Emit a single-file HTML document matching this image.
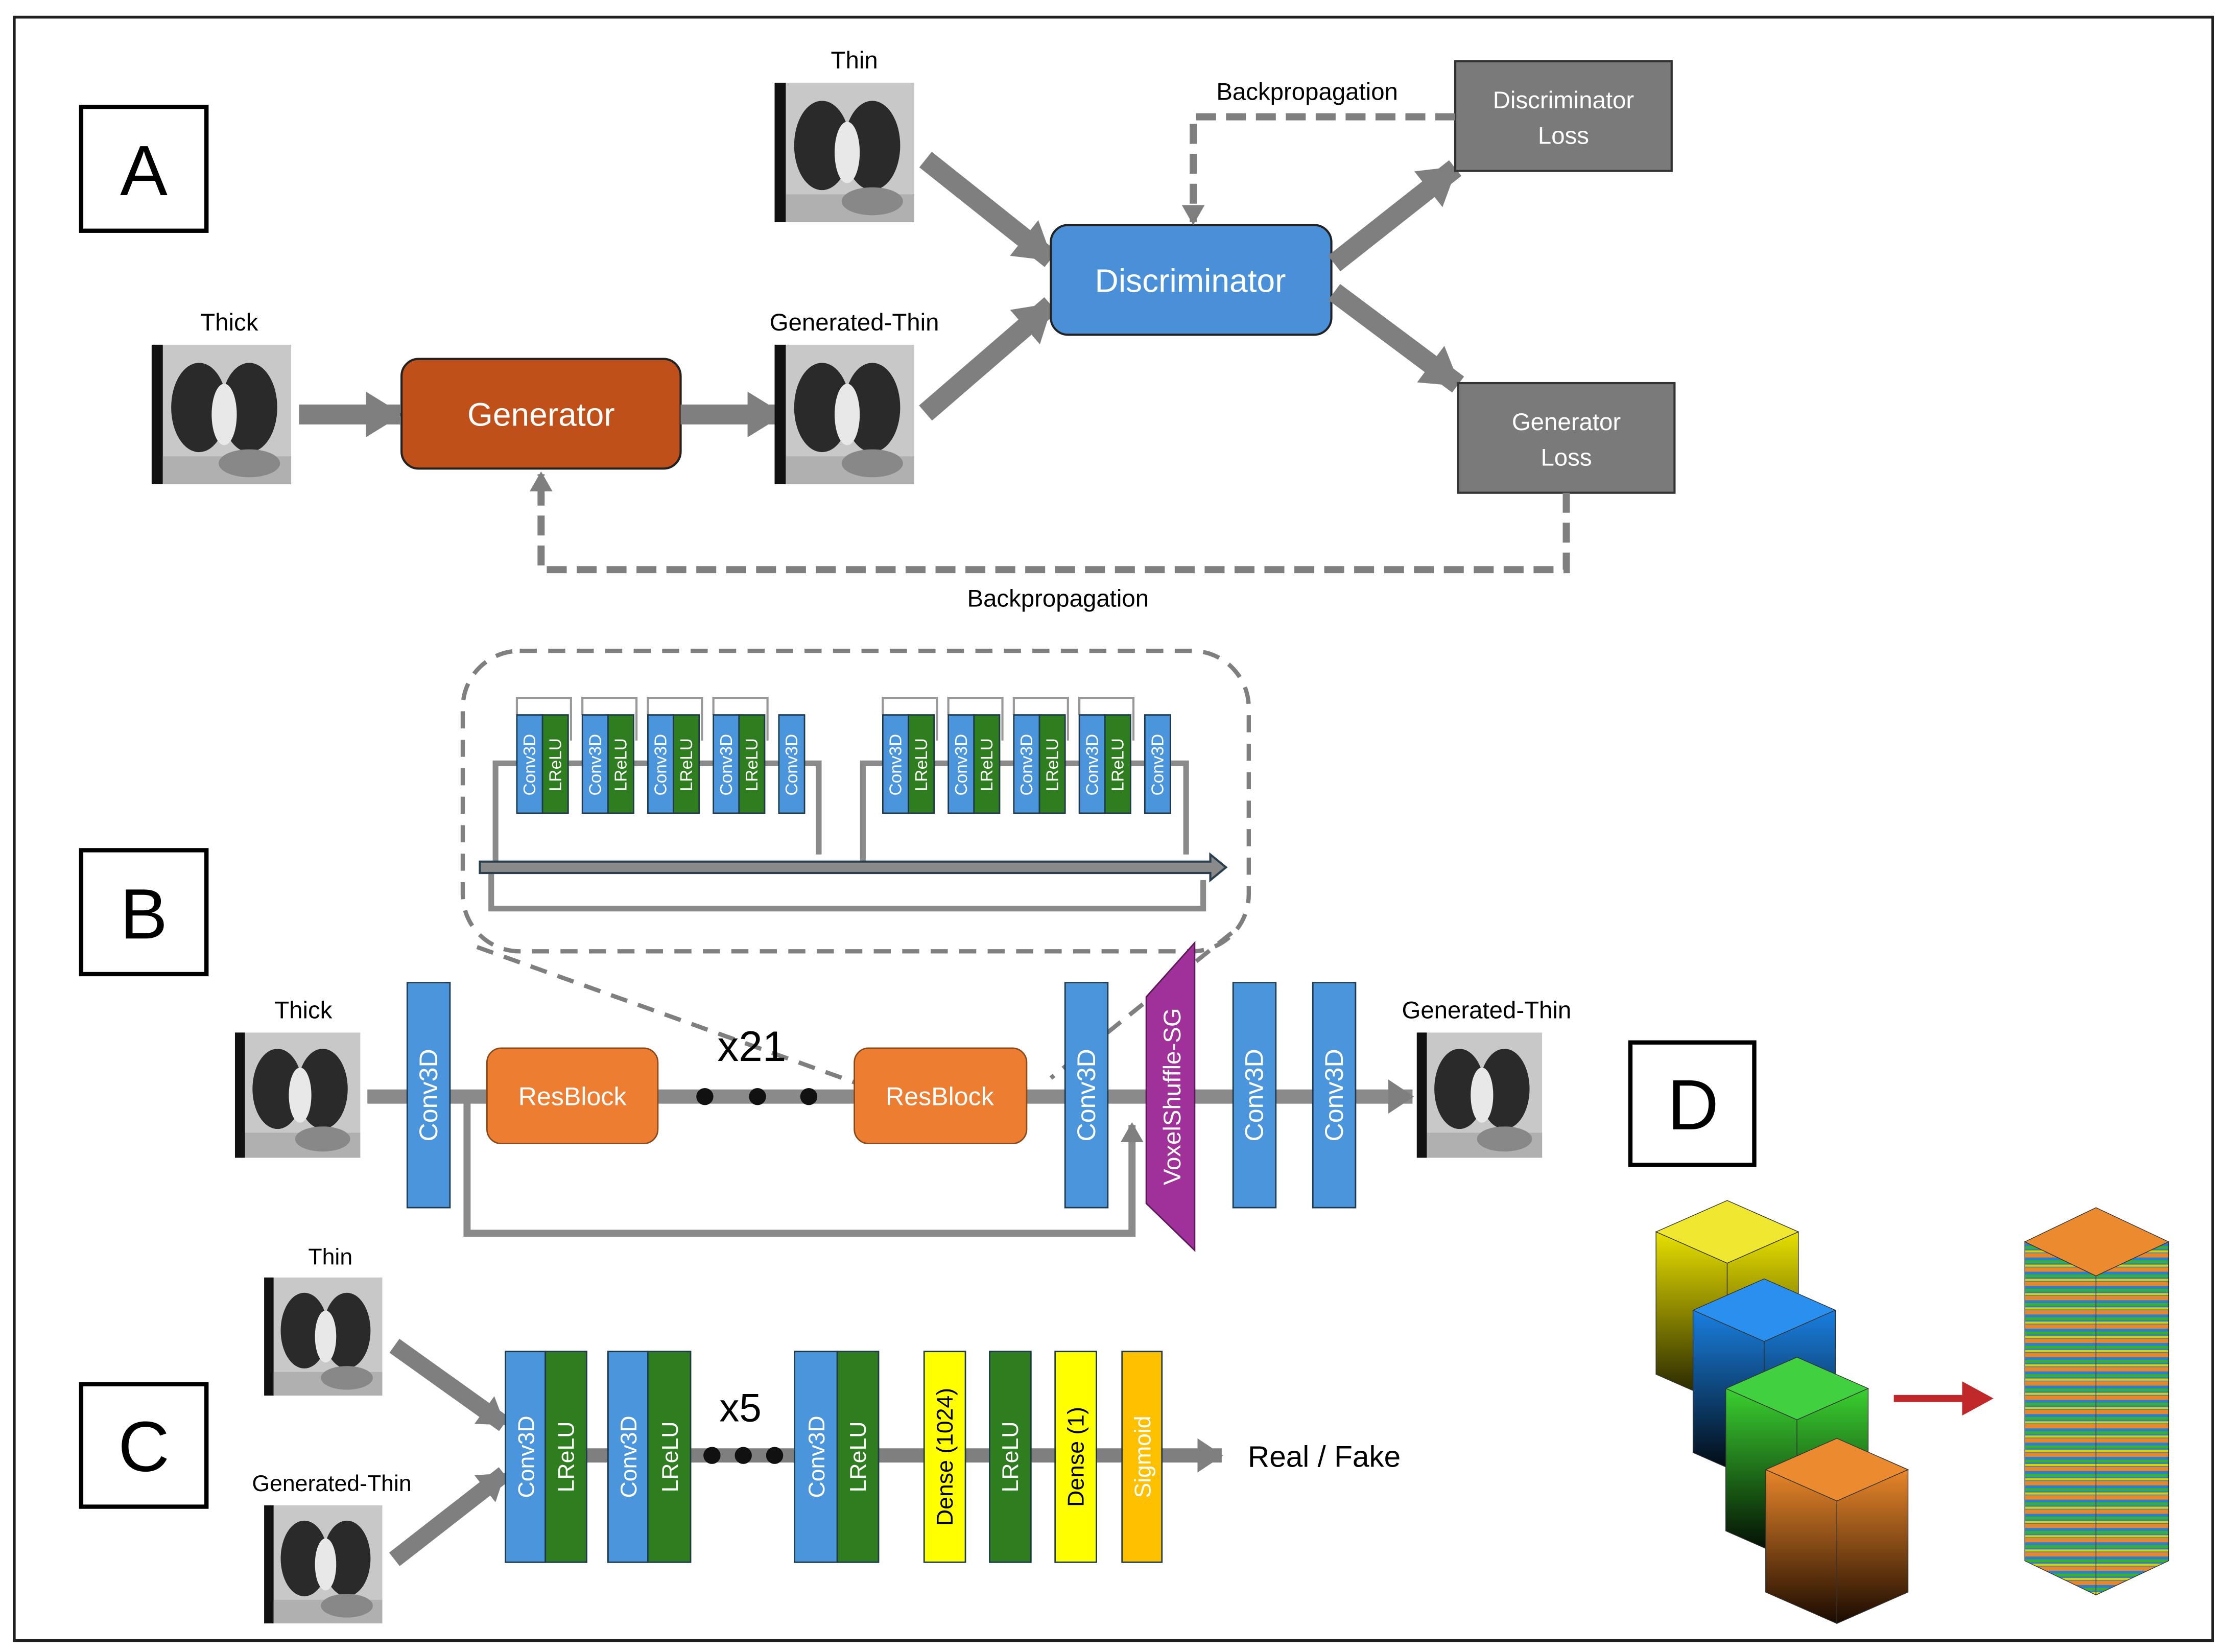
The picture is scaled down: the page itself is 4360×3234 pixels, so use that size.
<!DOCTYPE html>
<html><head><meta charset="utf-8"><style>
html,body{margin:0;padding:0;background:#fff}
svg{display:block}
text{font-family:"Liberation Sans",sans-serif}
</style></head><body>
<svg width="4360" height="3234" viewBox="0 0 1564 1160" xmlns="http://www.w3.org/2000/svg">
<defs>
<symbol id="lung" viewBox="0 0 100 100">
<rect x="0" y="0" width="100" height="100" fill="#c8c8c8"/>
<rect x="0" y="0" width="8" height="100" fill="#111"/>
<ellipse cx="34" cy="45" rx="20" ry="32" fill="#2a2a2a"/>
<ellipse cx="70" cy="45" rx="20" ry="32" fill="#2a2a2a"/>
<ellipse cx="52" cy="50" rx="9" ry="22" fill="#e8e8e8"/>
<rect x="8" y="80" width="92" height="20" fill="#b0b0b0"/>
<ellipse cx="70" cy="85" rx="22" ry="10" fill="#888"/>
</symbol>
<marker id="ahb" markerWidth="26" markerHeight="32" refX="24" refY="16" orient="auto" markerUnits="userSpaceOnUse"><path d="M0,0 L26,16 L0,32 z" fill="#7f7f7f"/></marker>
<marker id="ahm" markerWidth="18" markerHeight="24" refX="17" refY="12" orient="auto" markerUnits="userSpaceOnUse"><path d="M0,0 L18,12 L0,24 z" fill="#7f7f7f"/></marker>
<marker id="ahs" markerWidth="14" markerHeight="16" refX="12" refY="8" orient="auto" markerUnits="userSpaceOnUse"><path d="M0,0 L14,8 L0,16 z" fill="#7f7f7f"/></marker>
<linearGradient id="gy" x1="0" y1="0" x2="0" y2="1"><stop offset="0" stop-color="#e8e000"/><stop offset="1" stop-color="#1a1a00"/></linearGradient>
<linearGradient id="gb" x1="0" y1="0" x2="0" y2="1"><stop offset="0" stop-color="#1a7fe0"/><stop offset="1" stop-color="#000"/></linearGradient>
<linearGradient id="gg" x1="0" y1="0" x2="0" y2="1"><stop offset="0" stop-color="#3ad030"/><stop offset="1" stop-color="#000"/></linearGradient>
<linearGradient id="go" x1="0" y1="0" x2="0" y2="1"><stop offset="0" stop-color="#e8862a"/><stop offset="1" stop-color="#1a0a00"/></linearGradient>
<pattern id="stripes" width="10" height="10" patternUnits="userSpaceOnUse">
<rect width="10" height="10" fill="#2a7fd0"/><rect y="0" width="10" height="3" fill="#e8862a"/><rect y="5" width="10" height="2" fill="#3ab030"/><rect y="8" width="10" height="1.5" fill="#d8d000"/>
</pattern>
</defs>
<rect x="10" y="12" width="1544" height="1140" fill="#fff" stroke="#222" stroke-width="2"/>

<!-- Panel A -->
<rect x="57" y="75" width="88" height="87" fill="#fff" stroke="#000" stroke-width="3"/>
<text x="101" y="137" font-size="50" text-anchor="middle">A</text>
<use href="#lung" x="101" y="242" width="109" height="98"/>
<text x="161" y="232" font-size="17" text-anchor="middle">Thick</text>
<line x1="210" y1="291" x2="281" y2="291" stroke="#7f7f7f" stroke-width="14" marker-end="url(#ahb)"/>
<rect x="282" y="252" width="196" height="77" rx="12" fill="#c0501a" stroke="#222" stroke-width="1.5"/>
<text x="380" y="299" font-size="23" fill="#fff" text-anchor="middle">Generator</text>
<line x1="478" y1="291" x2="549" y2="291" stroke="#7f7f7f" stroke-width="14" marker-end="url(#ahb)"/>
<use href="#lung" x="539" y="242" width="108" height="98"/>
<text x="600" y="232" font-size="17" text-anchor="middle">Generated-Thin</text>
<use href="#lung" x="539" y="58" width="108" height="98"/>
<text x="600" y="48" font-size="17" text-anchor="middle">Thin</text>
<line x1="650" y1="112" x2="738" y2="182" stroke="#7f7f7f" stroke-width="14" marker-end="url(#ahb)"/>
<line x1="650" y1="290" x2="738" y2="214" stroke="#7f7f7f" stroke-width="14" marker-end="url(#ahb)"/>
<rect x="738" y="158" width="197" height="77" rx="12" fill="#4a90d9" stroke="#222" stroke-width="1.5"/>
<text x="836" y="205" font-size="23" fill="#fff" text-anchor="middle">Discriminator</text>
<line x1="937" y1="185" x2="1022" y2="118" stroke="#7f7f7f" stroke-width="14" marker-end="url(#ahb)"/>
<line x1="937" y1="205" x2="1024" y2="270" stroke="#7f7f7f" stroke-width="14" marker-end="url(#ahb)"/>
<rect x="1022" y="43" width="152" height="77" fill="#7a7a7a" stroke="#333" stroke-width="1.5"/>
<text x="1098" y="76" font-size="17" fill="#fff" text-anchor="middle">Discriminator</text>
<text x="1098" y="101" font-size="17" fill="#fff" text-anchor="middle">Loss</text>
<rect x="1024" y="269" width="152" height="77" fill="#7a7a7a" stroke="#333" stroke-width="1.5"/>
<text x="1100" y="302" font-size="17" fill="#fff" text-anchor="middle">Generator</text>
<text x="1100" y="327" font-size="17" fill="#fff" text-anchor="middle">Loss</text>
<polyline points="1022,82 838,82 838,156" fill="none" stroke="#7f7f7f" stroke-width="5" stroke-dasharray="14,7" marker-end="url(#ahs)"/>
<text x="918" y="70" font-size="17" text-anchor="middle">Backpropagation</text>
<polyline points="1100,346 1100,400 380,400 380,333" fill="none" stroke="#7f7f7f" stroke-width="5" stroke-dasharray="14,7" marker-end="url(#ahs)"/>
<text x="743" y="426" font-size="17" text-anchor="middle">Backpropagation</text>

<!-- Panel B -->
<rect x="57" y="597" width="88" height="87" fill="#fff" stroke="#000" stroke-width="3"/>
<text x="101" y="659" font-size="50" text-anchor="middle">B</text>
<rect x="325" y="457" width="552" height="211" rx="40" fill="none" stroke="#7f7f7f" stroke-width="3" stroke-dasharray="12,8"/>
<g fill="none" stroke="#999" stroke-width="1.5">
<path d="M363,502 V490 H401 V520 M409,502 V490 H447 V520 M455,502 V490 H493 V520 M501,502 V490 H539 V520"/>
<path d="M620,502 V490 H658 V520 M666,502 V490 H704 V520 M712,502 V490 H750 V520 M758,502 V490 H796 V520"/>
</g>
<g fill="none" stroke="#8a8a8a" stroke-width="4">
<polyline points="348,609 348,536 575,536 575,600"/>
<polyline points="606,609 606,536 833,536 833,600"/>
<polyline points="345,612 345,638 845,638 845,618"/>
</g>
<g stroke="#1f3a4a" stroke-width="1">
<rect x="363" y="502" width="18" height="69" fill="#4a95dc"/><rect x="381" y="502" width="18" height="69" fill="#2e7d1f"/>
<rect x="409" y="502" width="18" height="69" fill="#4a95dc"/><rect x="427" y="502" width="18" height="69" fill="#2e7d1f"/>
<rect x="455" y="502" width="18" height="69" fill="#4a95dc"/><rect x="473" y="502" width="18" height="69" fill="#2e7d1f"/>
<rect x="501" y="502" width="18" height="69" fill="#4a95dc"/><rect x="519" y="502" width="18" height="69" fill="#2e7d1f"/>
<rect x="547" y="502" width="18" height="69" fill="#4a95dc"/>
<rect x="620" y="502" width="18" height="69" fill="#4a95dc"/><rect x="638" y="502" width="18" height="69" fill="#2e7d1f"/>
<rect x="666" y="502" width="18" height="69" fill="#4a95dc"/><rect x="684" y="502" width="18" height="69" fill="#2e7d1f"/>
<rect x="712" y="502" width="18" height="69" fill="#4a95dc"/><rect x="730" y="502" width="18" height="69" fill="#2e7d1f"/>
<rect x="758" y="502" width="18" height="69" fill="#4a95dc"/><rect x="776" y="502" width="18" height="69" fill="#2e7d1f"/>
<rect x="804" y="502" width="18" height="69" fill="#4a95dc"/>
</g>
<g font-size="12" fill="#fff" text-anchor="middle">
<text transform="translate(376,537) rotate(-90)">Conv3D</text><text transform="translate(394,537) rotate(-90)">LReLU</text>
<text transform="translate(422,537) rotate(-90)">Conv3D</text><text transform="translate(440,537) rotate(-90)">LReLU</text>
<text transform="translate(468,537) rotate(-90)">Conv3D</text><text transform="translate(486,537) rotate(-90)">LReLU</text>
<text transform="translate(514,537) rotate(-90)">Conv3D</text><text transform="translate(532,537) rotate(-90)">LReLU</text>
<text transform="translate(560,537) rotate(-90)">Conv3D</text>
<text transform="translate(633,537) rotate(-90)">Conv3D</text><text transform="translate(651,537) rotate(-90)">LReLU</text>
<text transform="translate(679,537) rotate(-90)">Conv3D</text><text transform="translate(697,537) rotate(-90)">LReLU</text>
<text transform="translate(725,537) rotate(-90)">Conv3D</text><text transform="translate(743,537) rotate(-90)">LReLU</text>
<text transform="translate(771,537) rotate(-90)">Conv3D</text><text transform="translate(789,537) rotate(-90)">LReLU</text>
<text transform="translate(817,537) rotate(-90)">Conv3D</text>
</g>
<path d="M337,605 H850 V600 L861,609 L850,618 V613 H337 z" fill="#8a8a8a" stroke="#2a4050" stroke-width="1.5"/>
<line x1="335" y1="665" x2="600" y2="760" stroke="#7f7f7f" stroke-width="3" stroke-dasharray="12,8"/>
<line x1="865" y1="655" x2="738" y2="757" stroke="#7f7f7f" stroke-width="3" stroke-dasharray="12,8"/>
<polyline points="328,770 328,866 795,866 795,790" fill="none" stroke="#8a8a8a" stroke-width="5" marker-end="url(#ahs)"/>
<line x1="258" y1="770" x2="992" y2="770" stroke="#8a8a8a" stroke-width="10" marker-end="url(#ahm)"/>
<use href="#lung" x="160" y="725" width="98" height="88"/>
<text x="213" y="715" font-size="17" text-anchor="middle">Thick</text>
<rect x="286" y="690" width="30" height="158" fill="#4a95dc" stroke="#1f3a4a"/>
<text transform="translate(307,769) rotate(-90)" font-size="18" fill="#fff" text-anchor="middle">Conv3D</text>
<rect x="342" y="736" width="120" height="67" rx="10" fill="#ed7d31" stroke="#8a4a1a"/>
<text x="402" y="776" font-size="18" fill="#fff" text-anchor="middle">ResBlock</text>
<circle cx="495" cy="770" r="6" fill="#111"/><circle cx="532" cy="770" r="6" fill="#111"/><circle cx="568" cy="770" r="6" fill="#111"/>
<text x="528" y="745" font-size="30" text-anchor="middle">x21</text>
<rect x="600" y="736" width="121" height="67" rx="10" fill="#ed7d31" stroke="#8a4a1a"/>
<text x="660" y="776" font-size="18" fill="#fff" text-anchor="middle">ResBlock</text>
<rect x="748" y="690" width="30" height="158" fill="#4a95dc" stroke="#1f3a4a"/>
<text transform="translate(769,769) rotate(-90)" font-size="18" fill="#fff" text-anchor="middle">Conv3D</text>
<polygon points="805,700 839,662 839,878 805,845" fill="#a0309a" stroke="#5a1a55"/>
<text transform="translate(829,770) rotate(-90)" font-size="17" fill="#fff" text-anchor="middle">VoxelShuffle-SG</text>
<rect x="866" y="690" width="30" height="158" fill="#4a95dc" stroke="#1f3a4a"/>
<text transform="translate(887,769) rotate(-90)" font-size="18" fill="#fff" text-anchor="middle">Conv3D</text>
<rect x="922" y="690" width="30" height="158" fill="#4a95dc" stroke="#1f3a4a"/>
<text transform="translate(943,769) rotate(-90)" font-size="18" fill="#fff" text-anchor="middle">Conv3D</text>
<use href="#lung" x="990" y="725" width="98" height="88"/>
<text x="1044" y="715" font-size="17" text-anchor="middle">Generated-Thin</text>

<!-- Panel C -->
<rect x="57" y="972" width="88" height="86" fill="#fff" stroke="#000" stroke-width="3"/>
<text x="101" y="1033" font-size="50" text-anchor="middle">C</text>
<use href="#lung" x="180" y="897" width="94" height="83"/>
<text x="232" y="888" font-size="16" text-anchor="middle">Thin</text>
<use href="#lung" x="180" y="1057" width="94" height="83"/>
<text x="233" y="1047" font-size="16" text-anchor="middle">Generated-Thin</text>
<line x1="277" y1="945" x2="354" y2="1000" stroke="#7f7f7f" stroke-width="12" marker-end="url(#ahm)"/>
<line x1="277" y1="1095" x2="354" y2="1035" stroke="#7f7f7f" stroke-width="12" marker-end="url(#ahm)"/>
<line x1="355" y1="1022" x2="858" y2="1022" stroke="#7f7f7f" stroke-width="10" marker-end="url(#ahm)"/>
<g stroke="#1f3a4a">
<rect x="355" y="949" width="28" height="148" fill="#4a95dc"/><rect x="383" y="949" width="29" height="148" fill="#2e7d1f"/>
<rect x="427" y="949" width="28" height="148" fill="#4a95dc"/><rect x="455" y="949" width="30" height="148" fill="#2e7d1f"/>
<rect x="558" y="949" width="30" height="148" fill="#4a95dc"/><rect x="588" y="949" width="29" height="148" fill="#2e7d1f"/>
<rect x="649" y="949" width="29" height="148" fill="#ffff00"/>
<rect x="695" y="949" width="29" height="148" fill="#2e7d1f"/>
<rect x="741" y="949" width="29" height="148" fill="#ffff00"/>
<rect x="788" y="949" width="28" height="148" fill="#ffc000"/>
</g>
<g font-size="16" text-anchor="middle">
<text transform="translate(375,1023) rotate(-90)" fill="#fff">Conv3D</text>
<text transform="translate(403,1023) rotate(-90)" fill="#fff">LReLU</text>
<text transform="translate(447,1023) rotate(-90)" fill="#fff">Conv3D</text>
<text transform="translate(476,1023) rotate(-90)" fill="#fff">LReLU</text>
<text transform="translate(579,1023) rotate(-90)" fill="#fff">Conv3D</text>
<text transform="translate(608,1023) rotate(-90)" fill="#fff">LReLU</text>
<text transform="translate(669,1023) rotate(-90)" fill="#000">Dense (1024)</text>
<text transform="translate(715,1023) rotate(-90)" fill="#fff">LReLU</text>
<text transform="translate(761,1023) rotate(-90)" fill="#000">Dense (1)</text>
<text transform="translate(808,1023) rotate(-90)" fill="#fff">Sigmoid</text>
</g>
<circle cx="500" cy="1022" r="6" fill="#111"/><circle cx="522" cy="1022" r="6" fill="#111"/><circle cx="544" cy="1022" r="6" fill="#111"/>
<text x="520" y="998" font-size="28" text-anchor="middle">x5</text>
<text x="930" y="1030" font-size="21" text-anchor="middle">Real / Fake</text>

<!-- Panel D -->
<rect x="1145" y="732" width="87" height="86" fill="#fff" stroke="#000" stroke-width="3"/>
<text x="1189" y="793" font-size="50" text-anchor="middle">D</text>
<g stroke="#333" stroke-width="0.5">
<polygon points="1213,843 1263,865 1213,887 1163,865" fill="#f0e830"/>
<polygon points="1163,865 1213,887 1213,987 1163,965" fill="url(#gy)"/>
<polygon points="1213,887 1263,865 1263,965 1213,987" fill="url(#gy)"/>
<polygon points="1239,898 1289,920 1239,942 1189,920" fill="#2a90f0"/>
<polygon points="1189,920 1239,942 1239,1042 1189,1020" fill="url(#gb)"/>
<polygon points="1239,942 1289,920 1289,1020 1239,1042" fill="url(#gb)"/>
<polygon points="1262,953 1312,975 1262,997 1212,975" fill="#40d040"/>
<polygon points="1212,975 1262,997 1262,1097 1212,1075" fill="url(#gg)"/>
<polygon points="1262,997 1312,975 1312,1075 1262,1097" fill="url(#gg)"/>
<polygon points="1290,1010 1340,1032 1290,1054 1240,1032" fill="#ec8a30"/>
<polygon points="1240,1032 1290,1054 1290,1140 1240,1118" fill="url(#go)"/>
<polygon points="1290,1054 1340,1032 1340,1118 1290,1140" fill="url(#go)"/>
<polygon points="1472,848 1523,872 1472,896 1422,872" fill="#ec8a30"/>
<polygon points="1422,872 1472,896 1472,1120 1422,1096" fill="url(#stripes)"/>
<polygon points="1472,896 1523,872 1523,1096 1472,1120" fill="url(#stripes)"/>
</g>
<line x1="1330" y1="982" x2="1390" y2="982" stroke="#c0282a" stroke-width="5"/>
<polygon points="1378,970 1400,982 1378,994" fill="#c0282a"/>
</svg>
</body></html>
